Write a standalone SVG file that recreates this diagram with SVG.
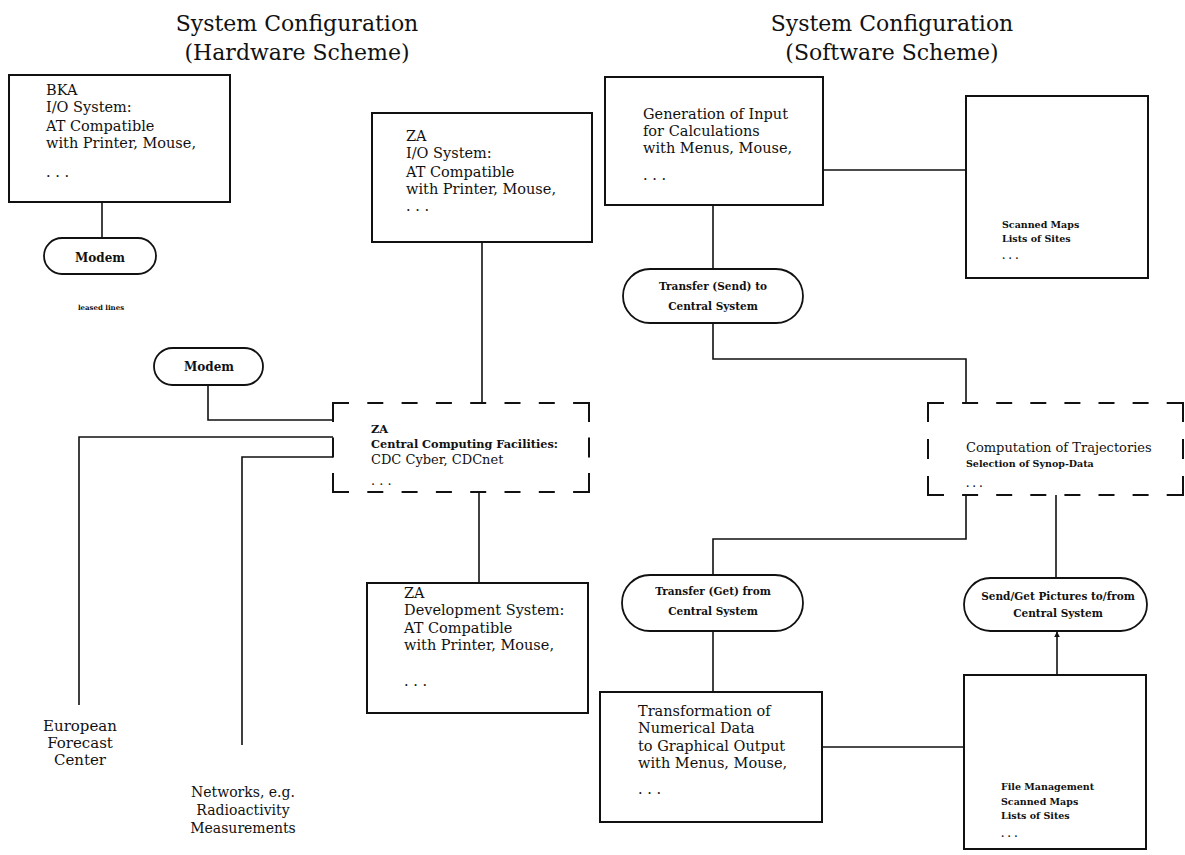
<svg xmlns="http://www.w3.org/2000/svg" width="1185" height="855" viewBox="0 0 1185 855">
<defs>
<marker id="arr" viewBox="0 0 10 10" refX="9" refY="5" markerWidth="6" markerHeight="6" orient="auto" markerUnits="userSpaceOnUse"><path d="M0,0 L10,5 L0,10 z" fill="#111"/></marker>
</defs>
<style>
.box{fill:#fff;stroke:#111;stroke-width:2}
.pill{fill:#fff;stroke:#111;stroke-width:1.8}
.dash{fill:none;stroke:#111;stroke-width:2}
.ln{fill:none;stroke:#111;stroke-width:1.6}
.title{font-family:"DejaVu Serif",serif;font-size:22px;fill:#111;text-anchor:middle}
.t{font-family:"DejaVu Serif",serif;font-size:14.5px;fill:#111}
.tc{font-family:"DejaVu Serif",serif;font-size:14px;fill:#111;text-anchor:middle}
.s{font-family:"DejaVu Serif",serif;font-size:10.5px;font-weight:bold;fill:#111;text-anchor:middle}
.xs{font-family:"DejaVu Serif",serif;font-size:9.5px;font-weight:bold;fill:#111}
.m{font-family:"DejaVu Serif",serif;font-size:13px;fill:#111}
.mb{font-family:"DejaVu Serif",serif;font-size:11.3px;font-weight:bold;fill:#111}
</style>
<rect width="1185" height="855" fill="#fff"/>

<g id="titles">
<text class="title" x="297" y="31">System Configuration</text>
<text class="title" x="297" y="60">(Hardware Scheme)</text>
<text class="title" x="892" y="31">System Configuration</text>
<text class="title" x="892" y="60">(Software Scheme)</text>
</g>

<g id="connectors">
<line class="ln" x1="102" y1="202" x2="102" y2="238"/>
<line class="ln" x1="482" y1="242" x2="482" y2="403"/>
<line class="ln" x1="479" y1="492" x2="479" y2="583"/>
<polyline class="ln" points="208,385 208,420 333,420"/>
<polyline class="ln" points="79,705 79,437 333,437"/>
<polyline class="ln" points="242,745 242,457 333,457"/>
<line class="ln" x1="823" y1="170" x2="966" y2="170"/>
<line class="ln" x1="713" y1="205" x2="713" y2="269"/>
<polyline class="ln" points="713,323 713,359 966,359 966,403"/>
<polyline class="ln" points="966,495 966,539 713,539 713,575"/>
<line class="ln" x1="713" y1="631" x2="713" y2="692"/>
<line class="ln" x1="1056" y1="495" x2="1056" y2="578"/>
<line class="ln" x1="822" y1="747" x2="964" y2="747"/>
<line class="ln" x1="1057" y1="675" x2="1057" y2="632" marker-end="url(#arr)"/>
</g>

<g id="bka">
<rect class="box" x="9" y="75" width="221" height="127"/>
<text class="t" x="46" y="95">BKA</text>
<text class="t" x="46" y="112">I/O System:</text>
<text class="t" x="46" y="131">AT Compatible</text>
<text class="t" x="46" y="148">with Printer, Mouse,</text>
<text class="t" x="46" y="177">. . .</text>
</g>

<g id="modem1">
<rect class="pill" x="44" y="238" width="112" height="36" rx="18"/>
<text class="s" x="100" y="262" style="font-size:12px">Modem</text>
</g>
<g id="leased">
<text class="s" x="101" y="310" style="font-size:7px">leased lines</text>
</g>

<g id="za-io">
<rect class="box" x="372" y="113" width="220" height="129"/>
<text class="t" x="406" y="141">ZA</text>
<text class="t" x="406" y="158">I/O System:</text>
<text class="t" x="406" y="177">AT Compatible</text>
<text class="t" x="406" y="194">with Printer, Mouse,</text>
<text class="t" x="406" y="211">. . .</text>
</g>

<g id="modem2">
<rect class="pill" x="154" y="348" width="109" height="37" rx="18.5"/>
<text class="s" x="209" y="371" style="font-size:12px">Modem</text>
</g>

<g id="za-central">
<line class="dash" x1="333" y1="403" x2="589" y2="403" stroke-dasharray="16 18.3"/>
<line class="dash" x1="333" y1="492" x2="589" y2="492" stroke-dasharray="16 18.3"/>
<line class="dash" x1="333" y1="402" x2="333" y2="493" stroke-dasharray="20 15.5"/>
<line class="dash" x1="589" y1="402" x2="589" y2="493" stroke-dasharray="20 15.5"/>
<text class="mb" x="371" y="433">ZA</text>
<text class="mb" x="371" y="448">Central Computing Facilities:</text>
<text class="m" x="371" y="464">CDC Cyber, CDCnet</text>
<text class="m" x="371" y="485">. . .</text>
</g>

<g id="za-dev">
<rect class="box" x="367" y="583" width="221" height="130"/>
<text class="t" x="404" y="598">ZA</text>
<text class="t" x="404" y="615">Development System:</text>
<text class="t" x="404" y="633">AT Compatible</text>
<text class="t" x="404" y="650">with Printer, Mouse,</text>
<text class="t" x="404" y="686">. . .</text>
</g>

<g id="european">
<text class="tc" x="80" y="731" style="font-size:15px">European</text>
<text class="tc" x="80" y="748" style="font-size:15px">Forecast</text>
<text class="tc" x="80" y="765" style="font-size:15px">Center</text>
</g>

<g id="networks">
<text class="tc" x="243" y="797">Networks, e.g.</text>
<text class="tc" x="243" y="815">Radioactivity</text>
<text class="tc" x="243" y="833">Measurements</text>
</g>

<g id="gen-input">
<rect class="box" x="605" y="77" width="218" height="128"/>
<text class="t" x="643" y="119">Generation of Input</text>
<text class="t" x="643" y="136">for Calculations</text>
<text class="t" x="643" y="153">with Menus, Mouse,</text>
<text class="t" x="643" y="180">. . .</text>
</g>

<g id="scanned-top">
<rect class="box" x="966" y="96" width="182" height="182"/>
<text class="xs" x="1002" y="228">Scanned Maps</text>
<text class="xs" x="1002" y="242">Lists of Sites</text>
<text class="xs" x="1002" y="259">. . .</text>
</g>

<g id="transfer-send">
<rect class="pill" x="623" y="269" width="180" height="54" rx="27"/>
<text class="s" x="713" y="290">Transfer (Send) to</text>
<text class="s" x="713" y="310">Central System</text>
</g>

<g id="computation">
<line class="dash" x1="928" y1="403" x2="1183" y2="403" stroke-dasharray="16 18.1"/>
<line class="dash" x1="928" y1="495" x2="1183" y2="495" stroke-dasharray="16 18.1"/>
<line class="dash" x1="928" y1="402" x2="928" y2="496" stroke-dasharray="20 17"/>
<line class="dash" x1="1183" y1="402" x2="1183" y2="496" stroke-dasharray="20 17"/>
<text class="m" x="966" y="452">Computation of Trajectories</text>
<text class="xs" x="966" y="467">Selection of Synop-Data</text>
<text class="xs" x="966" y="487">. . .</text>
</g>

<g id="transfer-get">
<rect class="pill" x="622" y="575" width="181" height="56" rx="28"/>
<text class="s" x="713" y="595">Transfer (Get) from</text>
<text class="s" x="713" y="615">Central System</text>
</g>

<g id="send-get">
<rect class="pill" x="964" y="578" width="183" height="53" rx="26.5"/>
<text class="s" x="1058" y="600">Send/Get Pictures to/from</text>
<text class="s" x="1058" y="617">Central System</text>
</g>

<g id="transformation">
<rect class="box" x="600" y="692" width="222" height="130"/>
<text class="t" x="638" y="716">Transformation of</text>
<text class="t" x="638" y="733">Numerical Data</text>
<text class="t" x="638" y="751">to Graphical Output</text>
<text class="t" x="638" y="768">with Menus, Mouse,</text>
<text class="t" x="638" y="794">. . .</text>
</g>

<g id="file-mgmt">
<rect class="box" x="964" y="675" width="182" height="174"/>
<text class="xs" x="1001" y="790">File Management</text>
<text class="xs" x="1001" y="805">Scanned Maps</text>
<text class="xs" x="1001" y="819">Lists of Sites</text>
<text class="xs" x="1001" y="837">. . .</text>
</g>
</svg>
